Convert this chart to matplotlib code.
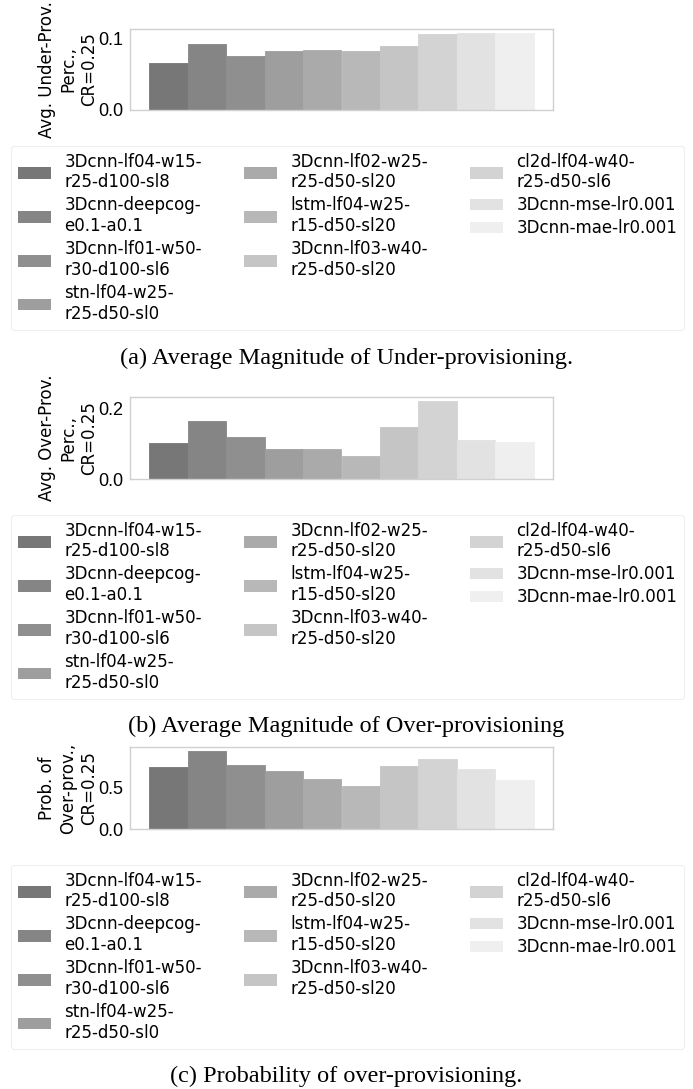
import matplotlib
matplotlib.use("Agg")
import matplotlib.pyplot as plt
from matplotlib.patches import Patch

labels = [
    "3Dcnn-lf04-w15-\nr25-d100-sl8",
    "3Dcnn-deepcog-\ne0.1-a0.1",
    "3Dcnn-lf01-w50-\nr30-d100-sl6",
    "stn-lf04-w25-\nr25-d50-sl0",
    "3Dcnn-lf02-w25-\nr25-d50-sl20",
    "lstm-lf04-w25-\nr15-d50-sl20",
    "3Dcnn-lf03-w40-\nr25-d50-sl20",
    "cl2d-lf04-w40-\nr25-d50-sl6",
    "3Dcnn-mse-lr0.001",
    "3Dcnn-mae-lr0.001",
]
colors = ["#777777", "#858585", "#8f8f8f", "#9e9e9e", "#aaaaaa",
          "#b8b8b8", "#c5c5c5", "#d3d3d3", "#e2e2e2", "#efefef"]

under_prov = [0.066, 0.093, 0.0755, 0.083, 0.085, 0.0825, 0.0905, 0.107, 0.109, 0.109]
over_prov = [0.101, 0.164, 0.119, 0.084, 0.084, 0.065, 0.147, 0.219, 0.110, 0.105]
prob_over = [0.74, 0.928, 0.768, 0.696, 0.60, 0.516, 0.748, 0.84, 0.72, 0.588]

ylabels = ["Avg. Under-Prov.\nPerc.,\nCR=0.25",
           "Avg. Over-Prov.\nPerc.,\nCR=0.25",
           "Prob. of\nOver-prov.,\nCR=0.25"]
yticks = [[0.0, 0.1], [0.0, 0.2], [0.0, 0.5]]
ylims = [0.114, 0.231, 0.98]
captions = ["(a) Average Magnitude of Under-provisioning.",
            "(b) Average Magnitude of Over-provisioning",
            "(c) Probability of over-provisioning."]
series = [under_prov, over_prov, prob_over]

W, H = 693, 1089
plt.rcParams['font.family'] = ['DejaVu Sans']
fig = plt.figure(figsize=(W / 100, H / 100), dpi=100)

# pixel layout (top-origin)
axes_px = [(29, 110), (397, 479), (747, 829)]
legend_top = [146, 515, 865]
caption_base = [364, 732, 1082]
ax_left, ax_right = 130, 553

def fx(x):
    return x / W

def fy(y):
    return 1 - y / H

tick_family = ['Liberation Sans', 'DejaVu Sans']

for i in range(3):
    top, bot = axes_px[i]
    ax = fig.add_axes([fx(ax_left), fy(bot), fx(ax_right - ax_left), (bot - top) / H])
    x = list(range(len(series[i])))
    ax.bar(x, series[i], width=1.0, color=colors, edgecolor=colors, linewidth=0.6)
    ax.set_xlim(-1, 10)
    ax.set_ylim(0, ylims[i])
    ax.set_xticks([])
    ax.set_yticks(yticks[i])
    ax.set_yticklabels([f"{v:.1f}" for v in yticks[i]], family=tick_family, fontsize=13)
    ax.tick_params(axis="y", length=0, pad=5)
    for s in ax.spines.values():
        s.set_color("#d0d0d0")
        s.set_linewidth(1.0)
    ax.set_ylabel(ylabels[i], fontsize=12, linespacing=1.2)
    ax.yaxis.set_label_coords((98 - ax_left) / (ax_right - ax_left), 0.5)

    handles = [Patch(facecolor=c, edgecolor="none") for c in colors]
    leg = fig.legend(handles, labels, ncol=3, loc="upper left",
                     bbox_to_anchor=(fx(11), fy(legend_top[i]), fx(673), 0.0),
                     mode="expand", fontsize=12, frameon=True,
                     handlelength=2.0, handletextpad=0.8, labelspacing=0.3,
                     borderpad=0.4, borderaxespad=0.0)
    leg.get_frame().set_edgecolor("#ebebeb")
    leg.get_frame().set_linewidth(0.8)

    fig.text(0.5, fy(caption_base[i]), captions[i], ha="center", va="baseline",
             fontsize=17.5, family="Liberation Serif")

fig.savefig("out.png", dpi=100)
